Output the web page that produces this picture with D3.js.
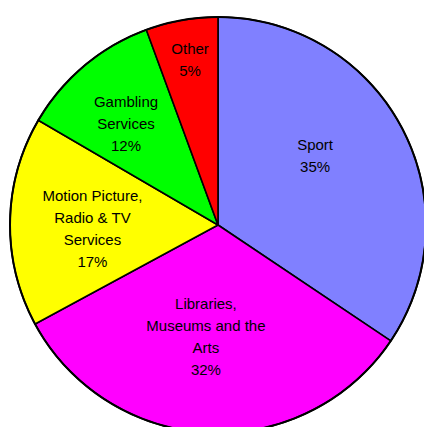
<!DOCTYPE html>
<html>
<head>
<meta charset="utf-8">
<script src="https://cdn.jsdelivr.net/npm/d3@7"></script>
<style>
  body { margin: 0; background: #fff; }
  svg { display: block; }
  .slice-label { font-family: "Liberation Sans", Arial, sans-serif; font-size: 15px; fill: #000; }
</style>
</head>
<body>
<svg id="chart" width="424" height="427"></svg>
<script>
// data (shares as drawn, labels as printed)
const categories = ['Sport', 'Libraries, Museums and the Arts', 'Motion Picture, Radio & TV Services', 'Gambling Services', 'Other'];
const shares = [34.4, 32.7, 16.3, 11.0, 5.6];
const percentLabels = ['35%', '32%', '17%', '12%', '5%'];
const labelLines = [
  ['Sport'],
  ['Libraries,', 'Museums and the', 'Arts'],
  ['Motion Picture,', 'Radio & TV', 'Services'],
  ['Gambling', 'Services'],
  ['Other'],
];

const cs = {
  pallette: ['#8080ff', '#ff00ff', '#ffff00', '#00ff00', '#ff0000'],
  cx: 218,
  cy: 225,
  radius: 208,
  lineHeight: 22,
  // label placement: fraction of radius and nudge (degrees) from slice mid-angle
  labelLayout: [
    { r: 0.574, nudge: -7.5 },
    { r: 0.537, nudge: 3.5 },
    { r: 0.604, nudge: -2.7 },
    { r: 0.66, nudge: -2.1 },
    { r: 0.807, nudge: 0.5 },
  ],
};

const rows = categories.map((c, i) => ({
  category: c, share: shares[i], pct: percentLabels[i], lines: labelLines[i].concat([percentLabels[i]]),
}));

const svg = d3.select('#chart');
const g = svg.append('g').attr('transform', `translate(${cs.cx},${cs.cy})`);

const pie = d3.pie().sort(null).value(d => d.share);
const arc = d3.arc().innerRadius(0).outerRadius(cs.radius);
const arcs = pie(rows);

g.selectAll('path.slice')
  .data(arcs)
  .enter()
  .append('path')
  .attr('class', 'slice')
  .attr('d', arc)
  .attr('fill', (d, i) => cs.pallette[i])
  .attr('stroke', '#000')
  .attr('stroke-width', 1.6)
  .attr('stroke-linejoin', 'round');

g.append('circle')
  .attr('r', cs.radius)
  .attr('fill', 'none')
  .attr('stroke', '#000')
  .attr('stroke-width', 2);

const labels = g.selectAll('text.slice-label')
  .data(arcs)
  .enter()
  .append('text')
  .attr('class', 'slice-label')
  .attr('text-anchor', 'middle')
  .attr('transform', (d, i) => {
    const lay = cs.labelLayout[i];
    const a = (d.startAngle + d.endAngle) / 2 + lay.nudge * Math.PI / 180;
    const rr = lay.r * cs.radius;
    return `translate(${rr * Math.sin(a)},${-rr * Math.cos(a)})`;
  });

labels.selectAll('tspan')
  .data(d => d.data.lines.map((t, k) => ({ t, k, n: d.data.lines.length })))
  .enter()
  .append('tspan')
  .attr('x', 0)
  .attr('y', d => (d.k - (d.n - 1) / 2) * cs.lineHeight + 5.5)
  .text(d => d.t);
</script>
</body>
</html>
